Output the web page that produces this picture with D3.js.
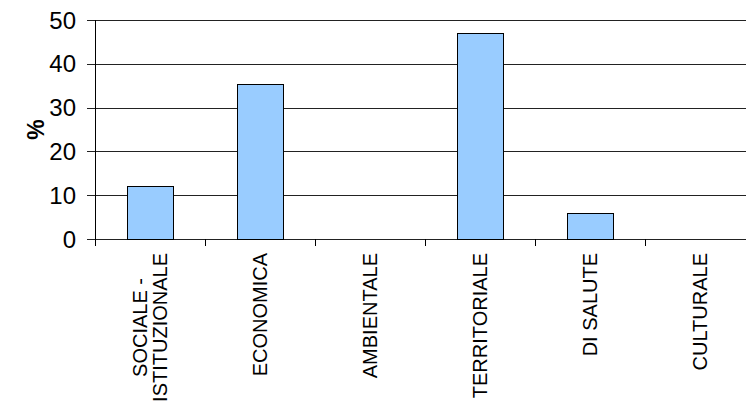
<!DOCTYPE html>
<html>

<head>
    <script src="https://d3js.org/d3.v7.min.js"></script>
    <meta charset="utf-8">
    <title>Chart</title>
    <style>
        body {
            margin: 0;
            background: #fff;
        }

        text {
            font-family: "Liberation Sans", Arial, sans-serif;
            fill: #000;
        }
    </style>
</head>

<body>
    <div id="chart"></div>
    <script>
        // data
        var categories = ["SOCIALE -\nISTITUZIONALE", "ECONOMICA", "AMBIENTALE", "TERRITORIALE", "DI SALUTE", "CULTURALE"];
        var values = [12, 35.4, 0, 47, 6, 0];
        var yTicks = [0, 10, 20, 30, 40, 50];
        var yLabel = "%";

        var W = 746, H = 401,
            mLeft = 95, mRight = 755, mTop = 20, mBottom = 239;

        var svg = d3.select('#chart').append('svg')
            .attr('width', W).attr('height', H);

        var x = d3.scaleBand().domain(d3.range(categories.length)).range([mLeft, mRight]).padding(0);
        var y = d3.scaleLinear().domain([0, 50]).range([mBottom, mTop]);
        var barW = x.bandwidth() * 0.414;

        // gridlines + tick marks on the left
        svg.append('g').selectAll('line')
            .data(yTicks)
            .enter().append('line')
            .attr('x1', mLeft - 8).attr('x2', W)
            .attr('y1', function (d) { return Math.round(y(d)) + 0.5; })
            .attr('y2', function (d) { return Math.round(y(d)) + 0.5; })
            .attr('stroke', '#222').attr('stroke-width', 1);

        svg.append('g').selectAll('text')
            .data(yTicks)
            .enter().append('text')
            .attr('x', mLeft - 19)
            .attr('y', function (d) { return y(d); })
            .attr('dy', '0.36em')
            .attr('text-anchor', 'end')
            .style('font-size', '24px')
            .text(function (d) { return d; });

        // bars
        svg.append('g').selectAll('rect')
            .data(values)
            .enter().append('rect')
            .attr('x', function (d, i) { return Math.round(x(i) + x.bandwidth() / 2 - barW / 2) + 0.5; })
            .attr('y', function (d) { return Math.round(y(d)) + 0.5; })
            .attr('width', Math.round(barW))
            .attr('height', function (d) { return Math.round(y(0)) - Math.round(y(d)); })
            .attr('fill', '#99ccff')
            .attr('stroke', '#000')
            .attr('stroke-width', 1)
            .style('display', function (d) { return d > 0 ? null : 'none'; });

        // y axis line
        svg.append('line')
            .attr('x1', mLeft + 0.5).attr('x2', mLeft + 0.5)
            .attr('y1', mTop).attr('y2', mBottom + 7)
            .attr('stroke', '#000');

        // category tick marks
        svg.append('g').selectAll('line')
            .data(d3.range(1, categories.length))
            .enter().append('line')
            .attr('x1', function (i) { return Math.round(x(i)) + 0.5; })
            .attr('x2', function (i) { return Math.round(x(i)) + 0.5; })
            .attr('y1', mBottom).attr('y2', mBottom + 7)
            .attr('stroke', '#000');

        // category labels, rotated; lines centred on each other, block flush to the axis
        var lbl = svg.append('g').selectAll('text')
            .data(categories)
            .enter().append('text')
            .attr('text-anchor', 'middle')
            .style('font-size', '20px')
            .attr('transform', function (d, i) {
                return 'translate(' + (x(i) + x.bandwidth() / 2) + ',' + (mBottom + 14) + ') rotate(-90)';
            });

        lbl.each(function (d) {
            var lines = d.split('\n'),
                lh = 20,
                off = -(lines.length - 1) * lh / 2;
            var t = d3.select(this);
            var spans = lines.map(function (s, k) {
                return t.append('tspan')
                    .attr('y', off + k * lh)
                    .attr('dy', '0.36em')
                    .text(s);
            });
            var maxLen = d3.max(spans, function (sp) { return sp.node().getComputedTextLength(); });
            spans.forEach(function (sp) { sp.attr('x', -maxLen / 2); });
        });

        // y axis title
        svg.append('text')
            .attr('transform', 'translate(36,' + ((mTop + mBottom) / 2) + ') rotate(-90)')
            .attr('text-anchor', 'middle')
            .attr('dy', '0.36em')
            .style('font-size', '23px')
            .style('font-weight', 'bold')
            .text(yLabel);
    </script>
</body>

</html>
